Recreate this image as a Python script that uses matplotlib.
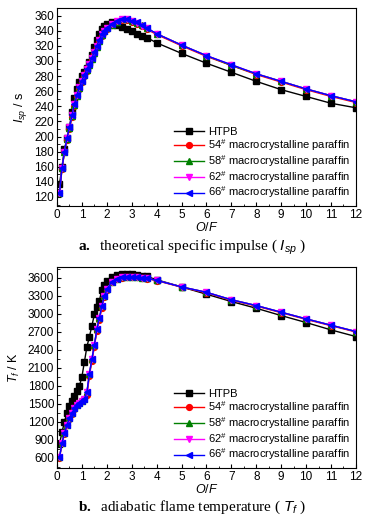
import numpy as np
import matplotlib.pyplot as plt
from matplotlib.ticker import MultipleLocator

plt.rcParams['font.family'] = ['Liberation Sans', 'DejaVu Sans']
plt.rcParams['mathtext.fontset'] = 'custom'
plt.rcParams['mathtext.rm'] = 'Liberation Sans'
plt.rcParams['mathtext.it'] = 'Liberation Sans:italic'
plt.rcParams['mathtext.bf'] = 'Liberation Serif:bold'

# O/F grid (same for all series)
of = [0.1, 0.2, 0.3, 0.4, 0.5, 0.6, 0.7, 0.8, 0.9, 1.0,
      1.1, 1.2, 1.3, 1.4, 1.5, 1.6, 1.7, 1.8, 1.9, 2.0,
      2.2, 2.4, 2.6, 2.8, 3.0, 3.2, 3.4, 3.6,
      4, 5, 6, 7, 8, 9, 10, 11, 12]

labels = ["HTPB",
          "54$^{\\#}$ macrocrystalline paraffin",
          "58$^{\\#}$ macrocrystalline paraffin",
          "62$^{\\#}$ macrocrystalline paraffin",
          "66$^{\\#}$ macrocrystalline paraffin"]

# specific impulse, s
isp_htpb = [137, 160, 183, 198, 213, 232, 251, 263, 272, 280,
            286, 291, 299, 308, 318, 328, 335, 342, 346, 349,
            351, 348, 345, 342, 339, 336, 333, 331,
            324, 310, 297, 285, 273, 262, 253, 244, 238]
isp_54 = [125, 157, 179, 196, 210, 226, 241, 253, 263, 272,
          280, 287, 294, 302, 310, 318, 326, 333, 338, 342,
          348, 352, 354, 354, 352, 349, 346, 342,
          335, 320, 306, 294, 282, 272, 262, 253, 245]
isp_58 = [125, 158, 180, 197, 211, 227, 242, 254, 264, 273,
          281, 288, 295, 303, 311, 319, 327, 334, 339, 343,
          348, 352, 355, 355, 353, 350, 347, 343,
          336, 321, 307, 294, 283, 273, 263, 254, 246]
isp_62 = [125, 158, 180, 198, 212, 228, 243, 255, 265, 274,
          282, 289, 296, 304, 312, 320, 328, 335, 340, 344,
          349, 353, 355, 355, 353, 350, 346, 343,
          336, 321, 307, 295, 283, 273, 263, 254, 246]
isp_66 = [125, 158, 180, 198, 212, 228, 243, 255, 265, 274,
          282, 289, 296, 304, 312, 320, 328, 335, 340, 344,
          349, 353, 355, 355, 353, 351, 348, 344,
          336, 321, 307, 295, 283, 273, 263, 254, 246]

# adiabatic flame temperature, K
tf_htpb = [833, 1022, 1205, 1344, 1467, 1545, 1630, 1710, 1800, 1950,
           2200, 2450, 2620, 2800, 2990, 3110, 3220, 3400, 3490, 3550,
           3610, 3645, 3665, 3670, 3665, 3655, 3640, 3625,
           3570, 3450, 3328, 3206, 3094, 2972, 2856, 2733, 2622]
tf_54 = [600, 840, 1005, 1140, 1250, 1335, 1420, 1478, 1518, 1550,
         1580, 1640, 1960, 2220, 2450, 2720, 2900, 3100, 3280, 3400,
         3530, 3585, 3605, 3615, 3615, 3610, 3600, 3590,
         3555, 3445, 3352, 3228, 3130, 3020, 2908, 2803, 2698]
tf_58 = [605, 845, 1010, 1148, 1258, 1342, 1426, 1482, 1521, 1554,
         1584, 1690, 1995, 2245, 2475, 2745, 2925, 3125, 3295, 3408,
         3538, 3590, 3610, 3620, 3620, 3615, 3605, 3594,
         3560, 3450, 3360, 3236, 3139, 3028, 2917, 2811, 2706]
tf_62 = tf_58
tf_66 = [605, 845, 1011, 1150, 1261, 1344, 1428, 1483, 1522, 1555,
         1585, 1700, 2000, 2250, 2480, 2750, 2930, 3130, 3300, 3410,
         3540, 3590, 3610, 3620, 3620, 3615, 3605, 3594,
         3560, 3450, 3360, 3236, 3139, 3028, 2917, 2811, 2706]

colors = ["black", "red", "green", "magenta", "blue"]
markers = ["s", "o", "^", "v", "<"]

fig = plt.figure(figsize=(3.76, 5.19), dpi=100)
ax1 = fig.add_axes([0.1516, 0.603, 0.795, 0.3815])
ax2 = fig.add_axes([0.1516, 0.0983, 0.795, 0.387])

for ax, series in [(ax1, [isp_htpb, isp_54, isp_58, isp_62, isp_66]),
                   (ax2, [tf_htpb, tf_54, tf_58, tf_62, tf_66])]:
    for y, c, m, lab in zip(series, colors, markers, labels):
        ax.plot(of, y, color=c, marker=m, ms=4.2, lw=1.0, label=lab)
    ax.set_xlim(0, 12)
    ax.xaxis.set_major_locator(MultipleLocator(1))
    ax.xaxis.set_minor_locator(MultipleLocator(0.5))
    ax.tick_params(which='both', direction='in', top=False, right=False,
                   labelsize=8.5, pad=2)
    ax.tick_params(which='major', length=3)
    ax.tick_params(which='minor', length=1.8)
    ax.set_xlabel("$O/F$", fontsize=9, labelpad=0)
    ax.legend(loc='lower right', frameon=False, fontsize=8,
              handlelength=2.7, handletextpad=0.4, labelspacing=0.0,
              borderaxespad=0.1, bbox_to_anchor=(1.0, 0.0))

ax1.set_ylim(108, 370)
ax1.yaxis.set_major_locator(MultipleLocator(20))
ax1.yaxis.set_minor_locator(MultipleLocator(10))
ax1.set_ylabel("$I_{sp}$ / s", fontsize=9, labelpad=4)

ax2.set_ylim(430, 3780)
ax2.yaxis.set_major_locator(MultipleLocator(300))
ax2.yaxis.set_minor_locator(MultipleLocator(150))
ax2.set_ylabel("$T_{f}$ / K", fontsize=9, labelpad=4)

serif = ['Liberation Serif', 'DejaVu Serif']
fig.text(0.51, 0.524, "$\\mathbf{a.}$  theoretical specific impulse ( $I_{sp}$ )",
         ha='center', va='center', fontsize=11, family=serif)
fig.text(0.51, 0.023, "$\\mathbf{b.}$  adiabatic flame temperature ( $T_{f}$ )",
         ha='center', va='center', fontsize=11, family=serif)

plt.savefig("out.png", dpi=100)
